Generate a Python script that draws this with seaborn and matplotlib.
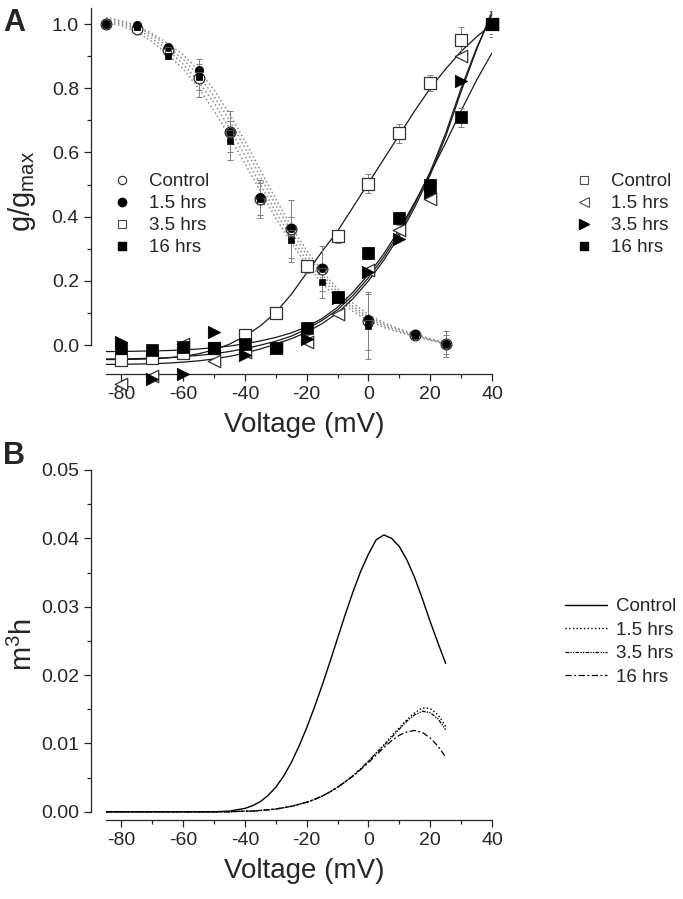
import numpy as np
import pandas as pd
import matplotlib
matplotlib.use("Agg")
import matplotlib.pyplot as plt
import seaborn as sns
from matplotlib.lines import Line2D
from matplotlib.ticker import FixedLocator

# ---- panel A : inactivation points (circles / small squares) ----
V_inact = [-85, -75, -65, -55, -45, -35, -25, -15, 0, 15, 25]
h_ctrl = [1.0, 0.985, 0.918, 0.832, 0.665, 0.455, 0.362, 0.238, 0.076, 0.031, 0.003]
h_15 = [1.0, 0.997, 0.93, 0.858, 0.665, 0.462, 0.365, 0.24, 0.08, 0.035, 0.005]
h_35 = [1.0, 0.99, 0.92, 0.84, 0.66, 0.45, 0.35, 0.23, 0.07, 0.03, 0.0]
h_16 = [1.0, 0.99, 0.90, 0.835, 0.637, 0.455, 0.328, 0.197, 0.058, 0.03, 0.003]
h_ctrl_err = [0.005, 0.01, 0.01, 0.06, 0.065, 0.06, 0.09, 0.07, 0.09, 0.01, 0.04]
h_16_err = [0.005, 0.01, 0.01, 0.04, 0.06, 0.05, 0.07, 0.05, 0.10, 0.01, 0.03]

# inactivation fits (dotted)
V_fit_h = [-85, -80, -75, -70, -65, -60, -55, -50, -45, -40, -35, -30,
           -25, -20, -15, -10, -5, 0, 5, 10, 15, 20, 25]
fit_h_1 = [1.02, 1.01, 0.995, 0.97, 0.94, 0.905, 0.855, 0.795, 0.72, 0.635, 0.545, 0.455,
           0.37, 0.295, 0.23, 0.175, 0.13, 0.095, 0.07, 0.05, 0.035, 0.02, 0.008]
fit_h_2 = [1.015, 1.005, 0.99, 0.965, 0.93, 0.89, 0.84, 0.775, 0.70, 0.615, 0.525, 0.435,
           0.355, 0.28, 0.22, 0.165, 0.12, 0.088, 0.065, 0.047, 0.032, 0.018, 0.006]
fit_h_3 = [1.01, 1.0, 0.985, 0.955, 0.92, 0.875, 0.82, 0.755, 0.675, 0.59, 0.50, 0.415,
           0.335, 0.265, 0.205, 0.155, 0.113, 0.082, 0.06, 0.043, 0.029, 0.016, 0.004]
fit_h_4 = [1.005, 0.995, 0.975, 0.945, 0.905, 0.86, 0.80, 0.73, 0.65, 0.565, 0.48, 0.395,
           0.32, 0.25, 0.193, 0.145, 0.105, 0.076, 0.055, 0.04, 0.027, 0.015, 0.003]

# ---- panel A : activation points (big markers) ----
V_act = [-80, -70, -60, -50, -40, -30, -20, -10, 0, 10, 20, 30, 40]
g_ctrl = [-0.046, -0.04, -0.025, -0.01, 0.03, 0.10, 0.246, 0.339, 0.503, 0.66, 0.815, 0.95, 1.0]
g_15 = [-0.12, -0.095, 0.005, -0.05, -0.02, -0.005, 0.01, 0.097, 0.235, 0.36, 0.455, 0.90, 1.0]
g_35 = [0.01, -0.105, -0.09, 0.042, -0.03, -0.01, 0.02, 0.148, 0.228, 0.33, 0.478, 0.822, 1.0]
g_16 = [-0.01, -0.015, -0.005, -0.008, 0.004, -0.008, 0.052, 0.15, 0.287, 0.395, 0.498, 0.709, 1.0]
g_ctrl_err = [0.01, 0.01, 0.01, 0.01, 0.01, 0.01, 0.02, 0.02, 0.03, 0.03, 0.025, 0.04, 0.03]
g_16_err = [0.01, 0.01, 0.01, 0.01, 0.01, 0.01, 0.02, 0.02, 0.02, 0.02, 0.02, 0.03, 0.04]

# activation fits (solid)
V_fit_g = [-85, -80, -75, -70, -65, -60, -55, -50, -45, -40, -35, -30, -25,
           -20, -15, -10, -5, 0, 5, 10, 15, 20, 25, 30, 35, 40]
fit_g_ctrl = [-0.045, -0.045, -0.044, -0.043, -0.04, -0.035, -0.027, -0.015, 0.003, 0.028, 0.06, 0.102, 0.158,
              0.225, 0.292, 0.355, 0.43, 0.505, 0.58, 0.655, 0.73, 0.80, 0.86, 0.915, 0.96, 1.0]
fit_g_15 = [-0.060, -0.060, -0.059, -0.058, -0.056, -0.053, -0.049, -0.043, -0.035, -0.025, -0.012, 0.003, 0.02,
            0.04, 0.067, 0.10, 0.145, 0.20, 0.265, 0.34, 0.43, 0.53, 0.65, 0.79, 0.92, 1.04]
fit_g_35 = [-0.043, -0.043, -0.042, -0.041, -0.039, -0.036, -0.032, -0.027, -0.02, -0.011, 0.0, 0.012, 0.028,
            0.05, 0.077, 0.11, 0.155, 0.21, 0.275, 0.35, 0.44, 0.54, 0.66, 0.80, 0.925, 1.03]
fit_g_16 = [-0.02, -0.02, -0.019, -0.018, -0.017, -0.015, -0.012, -0.008, -0.003, 0.004, 0.013, 0.024, 0.038,
            0.057, 0.083, 0.118, 0.165, 0.22, 0.285, 0.36, 0.445, 0.535, 0.63, 0.73, 0.825, 0.91]

# ---- panel B : m3h window currents ----
V_b = [-85, -80, -75, -70, -65, -60, -55, -50, -45, -40, -37.5, -35, -32.5, -30, -27.5, -25,
       -22.5, -20, -17.5, -15, -12.5, -10, -7.5, -5, -2.5, 0, 2.5, 5, 7.5, 10, 12.5, 15,
       17.5, 20, 22.5, 25]
m3h_ctrl = [0, 0, 0, 0, 0, 0, 0, 0, 0.0001, 0.0005, 0.0009, 0.0015, 0.0024, 0.0036, 0.0052, 0.0072,
            0.0096, 0.0123, 0.0153, 0.0185, 0.0219, 0.0254, 0.0289, 0.0322, 0.0352, 0.0377, 0.0398, 0.0405,
            0.0400, 0.0388, 0.0368, 0.0342, 0.0311, 0.0278, 0.0247, 0.0217]
m3h_15 = [0, 0, 0, 0, 0, 0, 0, 0, 0, 0.0001, 0.0001, 0.0002, 0.0003, 0.0004, 0.0006, 0.0008,
          0.0011, 0.0014, 0.0018, 0.0023, 0.0029, 0.0036, 0.0044, 0.0053, 0.0063, 0.0074, 0.0086, 0.0098,
          0.0111, 0.0123, 0.0135, 0.0145, 0.0152, 0.0151, 0.0142, 0.0125]
m3h_35 = [0, 0, 0, 0, 0, 0, 0, 0, 0, 0.0001, 0.0001, 0.0002, 0.0003, 0.0004, 0.0006, 0.0008,
          0.0011, 0.0014, 0.0018, 0.0023, 0.0029, 0.0036, 0.0044, 0.0053, 0.0063, 0.0074, 0.0086, 0.0097,
          0.0109, 0.0121, 0.0133, 0.0142, 0.0147, 0.0145, 0.0136, 0.0120]
m3h_16 = [0, 0, 0, 0, 0, 0, 0, 0, 0, 0.0001, 0.0001, 0.0002, 0.0003, 0.0004, 0.0006, 0.0008,
          0.0011, 0.0014, 0.0018, 0.0023, 0.0029, 0.0036, 0.0044, 0.0052, 0.0062, 0.0072, 0.0083, 0.0094,
          0.0104, 0.0112, 0.0117, 0.0119, 0.0116, 0.0108, 0.0096, 0.0080]

labels = ["Control", "1.5 hrs", "3.5 hrs", "16 hrs"]

sns.set_style("ticks")
plt.rcParams["font.family"] = ["Liberation Sans", "DejaVu Sans"]
plt.rcParams["mathtext.default"] = "regular"
plt.rcParams["axes.unicode_minus"] = False
plt.rcParams["axes.linewidth"] = 0.9
for k in ["xtick.major.width", "ytick.major.width", "xtick.minor.width", "ytick.minor.width"]:
    plt.rcParams[k] = 0.9

W, H = 683, 899
fig = plt.figure(figsize=(W / 100, H / 100), dpi=100)
axA = fig.add_axes([106 / W, 1 - 374 / H, 386 / W, 366 / H])
axB = fig.add_axes([106 / W, 1 - 820 / H, 386 / W, 350 / H])


def style_axis(ax, ylo, ytop, yticks, yminor):
    for s in ["top", "right"]:
        ax.spines[s].set_visible(False)
    ax.spines["left"].set_position(("outward", 11))
    ax.spines["left"].set_bounds(0, ytop)
    ax.set_xlim(-85, 40)
    ax.set_ylim(ylo, ytop)
    ax.set_xticks(range(-80, 41, 20))
    ax.xaxis.set_minor_locator(FixedLocator(range(-70, 40, 20)))
    ax.set_yticks(yticks)
    ax.yaxis.set_minor_locator(FixedLocator(yminor))
    ax.tick_params(which="major", length=5, labelsize=14, direction="out")
    ax.tick_params(which="minor", length=3, direction="out")
    ax.set_xlabel("Voltage (mV)", fontsize=20)


# ---------------- panel A ----------------
for fit in [fit_h_1, fit_h_2, fit_h_3, fit_h_4]:
    sns.lineplot(x=V_fit_h, y=fit, ax=axA, color="0.55", linestyle=":", linewidth=1.1,
                 estimator=None, sort=False, zorder=1)
for fit in [fit_g_ctrl, fit_g_15, fit_g_35, fit_g_16]:
    sns.lineplot(x=V_fit_g, y=fit, ax=axA, color="0.1", linestyle="-", linewidth=0.9,
                 estimator=None, sort=False, zorder=2)

err_kw = dict(fmt="none", ecolor="0.5", elinewidth=0.7, capsize=2.5, capthick=0.7, zorder=2)
axA.errorbar(V_inact, h_ctrl, yerr=h_ctrl_err, **err_kw)
axA.errorbar(V_inact, h_16, yerr=h_16_err, **err_kw)
axA.errorbar(V_act, g_ctrl, yerr=g_ctrl_err, **err_kw)
axA.errorbar(V_act, g_16, yerr=g_16_err, **err_kw)

# inactivation markers
sns.scatterplot(x=V_inact, y=h_ctrl, ax=axA, marker="o", s=60, facecolor="white",
                edgecolor="0.15", linewidth=0.9, zorder=3, clip_on=False)
sns.scatterplot(x=V_inact, y=h_15, ax=axA, marker="o", s=36, color="black",
                edgecolor="black", linewidth=0.5, zorder=4, clip_on=False)
sns.scatterplot(x=V_inact, y=h_35, ax=axA, marker="s", s=20, facecolor="none",
                edgecolor="0.3", linewidth=0.7, zorder=4, clip_on=False)
sns.scatterplot(x=V_inact, y=h_16, ax=axA, marker="s", s=20, color="black",
                edgecolor="black", linewidth=0.5, zorder=5, clip_on=False)

# activation markers
sns.scatterplot(x=V_act, y=g_ctrl, ax=axA, marker="s", s=70, facecolor="white",
                edgecolor="0.2", linewidth=0.9, zorder=3, clip_on=False)
sns.scatterplot(x=V_act, y=g_15, ax=axA, marker="<", s=80, facecolor="white",
                edgecolor="0.2", linewidth=0.9, zorder=3, clip_on=False)
sns.scatterplot(x=V_act, y=g_35, ax=axA, marker=">", s=80, color="black",
                edgecolor="black", linewidth=0.5, zorder=4, clip_on=False)
sns.scatterplot(x=V_act, y=g_16, ax=axA, marker="s", s=70, color="black",
                edgecolor="black", linewidth=0.5, zorder=4, clip_on=False)

style_axis(axA, -0.09, 1.05, [0, 0.2, 0.4, 0.6, 0.8, 1.0], [0.1, 0.3, 0.5, 0.7, 0.9])
axA.set_ylabel(r"g/g$_{max}$", fontsize=21)
axA.yaxis.set_label_coords(-0.176, 0.50)
axA.xaxis.set_label_coords(0.513, -0.105)

inact_handles = [
    Line2D([], [], linestyle="none", marker="o", markersize=6, markerfacecolor="white",
           markeredgecolor="0.15", markeredgewidth=0.8),
    Line2D([], [], linestyle="none", marker="o", markersize=6, markerfacecolor="black",
           markeredgecolor="black"),
    Line2D([], [], linestyle="none", marker="s", markersize=5.5, markerfacecolor="white",
           markeredgecolor="0.3", markeredgewidth=0.8),
    Line2D([], [], linestyle="none", marker="s", markersize=5.5, markerfacecolor="black",
           markeredgecolor="black"),
]
act_handles = [
    Line2D([], [], linestyle="none", marker="s", markersize=6, markerfacecolor="white",
           markeredgecolor="0.3", markeredgewidth=0.8),
    Line2D([], [], linestyle="none", marker="<", markersize=7, markerfacecolor="white",
           markeredgecolor="0.3", markeredgewidth=0.8),
    Line2D([], [], linestyle="none", marker=">", markersize=7, markerfacecolor="black",
           markeredgecolor="black"),
    Line2D([], [], linestyle="none", marker="s", markersize=6, markerfacecolor="black",
           markeredgecolor="black"),
]
leg_kw = dict(frameon=False, fontsize=13.5, handlelength=1.0, handletextpad=0.9,
              labelspacing=0.26, borderpad=0, borderaxespad=0, loc="upper left",
              bbox_transform=fig.transFigure)
fig.legend(inact_handles, labels, bbox_to_anchor=(113 / W, 1 - 173 / H), **leg_kw)
fig.legend(act_handles, labels, bbox_to_anchor=(575 / W, 1 - 173 / H), **leg_kw)

# ---------------- panel B ----------------
b_styles = [("-", 1.0), (":", 1.0), ((0, (3, 1, 1, 1, 1, 1)), 0.9), ((0, (5, 2, 1.5, 2)), 0.9)]
for series, (ls, lw) in zip([m3h_ctrl, m3h_15, m3h_35, m3h_16], b_styles):
    sns.lineplot(x=V_b, y=series, ax=axB, color="black", linestyle=ls, linewidth=lw,
                 estimator=None, sort=False)

style_axis(axB, -0.0012, 0.05, [0, 0.01, 0.02, 0.03, 0.04, 0.05],
           [0.005, 0.015, 0.025, 0.035, 0.045])
axB.set_ylabel(r"m$^{3}$h", fontsize=21)
axB.yaxis.set_label_coords(-0.176, 0.50)
axB.xaxis.set_label_coords(0.513, -0.11)

b_handles = [Line2D([], [], color="black", linestyle=ls, linewidth=lw) for ls, lw in b_styles]
fig.legend(b_handles, labels, frameon=False, fontsize=13.5, handlelength=2.25,
           handletextpad=0.45, labelspacing=0.34, borderpad=0, borderaxespad=0,
           loc="upper left", bbox_transform=fig.transFigure,
           bbox_to_anchor=(565 / W, 1 - 598 / H))

fig.text(14 / W, 1 - 23 / H, "A", fontsize=22, fontweight="bold", ha="center", va="center")
fig.text(14 / W, 1 - 456 / H, "B", fontsize=22, fontweight="bold", ha="center", va="center")

fig.savefig("out.png", dpi=100)
